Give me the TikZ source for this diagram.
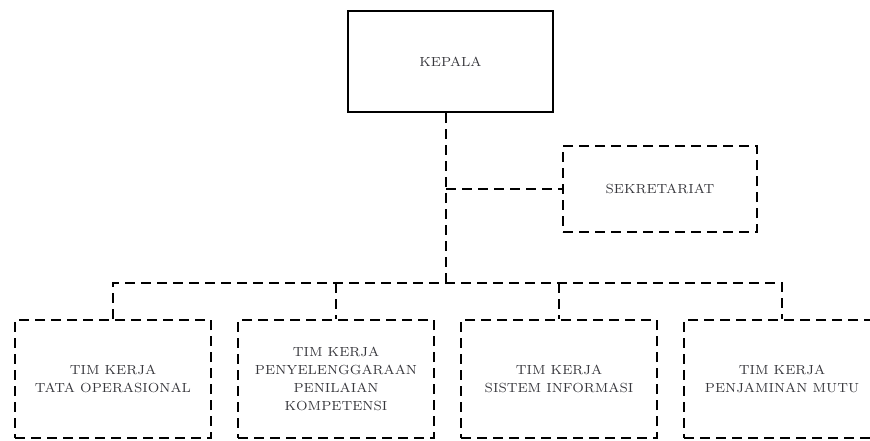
\documentclass[tikz,border=0pt]{standalone}
\usepackage{tikz}
\definecolor{tcol}{RGB}{55,55,60}
\tikzset{every picture/.style={x=0.5pt,y=-0.5pt}}
\tikzset{unit/.style={rectangle,draw,line width=1.4pt,align=center,text=tcol,font=\fontsize{6.6}{9}\selectfont,inner sep=0pt}}
\tikzset{dashbox/.style={unit,dash pattern=on 5pt off 3pt}}
\tikzset{link/.style={line width=1.4pt,dash pattern=on 5pt off 3pt}}

\begin{document}
\begin{tikzpicture}
\useasboundingbox (0,0) rectangle (870,440);
\clip (0,0) rectangle (870,440);
\node [unit,minimum width=102.5pt,minimum height=50.5pt] (k) at (450.5,61.5) {KEPALA};
\node [dashbox,minimum width=97pt,minimum height=43pt] (sek) at (660,189) {SEKRETARIAT};
\node [dashbox,minimum width=98pt,minimum height=59pt] (t1) at (113,379) {TIM KERJA\\TATA OPERASIONAL};
\node [dashbox,minimum width=98pt,minimum height=59pt] (t2) at (336,379) {TIM KERJA\\PENYELENGGARAAN\\PENILAIAN\\KOMPETENSI};
\node [dashbox,minimum width=98pt,minimum height=59pt] (t3) at (559,379) {TIM KERJA\\SISTEM INFORMASI};
\node [dashbox,minimum width=98pt,minimum height=59pt] (t4) at (782,379) {TIM KERJA\\PENJAMINAN MUTU};
\coordinate (j) at (446,283);

\draw [link] (k.south -| j) -- (j);
\draw [link] (sek.west -| j) -- (sek.west);

\draw [link] (t1.north) |- (j) -| (t4.north);
\draw [link] (t2.north |- j) -- (t2.north);
\draw [link] (t3.north |- j) -- (t3.north);
\end{tikzpicture}
\end{document}
